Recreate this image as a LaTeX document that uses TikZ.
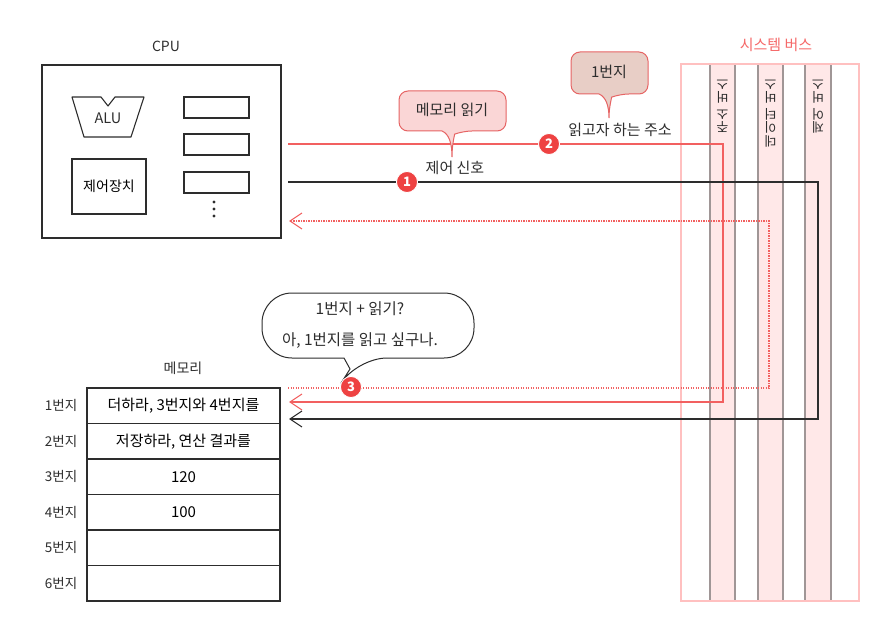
\documentclass[tikz,border=0pt]{standalone}
\usepackage{fontspec}
\setmainfont{Noto Sans CJK KR}
\usetikzlibrary{arrows.meta}
\definecolor{lred}{RGB}{242,96,96}
\definecolor{dred}{RGB}{230,100,100}
\definecolor{cred}{RGB}{238,66,66}
\definecolor{pinkf}{RGB}{250,214,214}
\definecolor{brownf}{RGB}{232,206,198}
\definecolor{lanef}{RGB}{255,232,232}
\definecolor{laneb}{RGB}{160,150,150}
\definecolor{outb}{RGB}{255,192,192}
\definecolor{ink}{RGB}{45,45,45}
\definecolor{titler}{RGB}{245,105,105}
\tikzset{
  box/.style={draw=ink, line width=1.1pt},
  cell/.style={draw=ink, line width=1.1pt, minimum width=193pt, minimum height=35.5pt, inner sep=0pt, font=\fontsize{15}{18}\selectfont},
  lbl/.style={font=\fontsize{15}{18}\selectfont, text=ink, inner sep=0pt},
  rowlbl/.style={font=\fontsize{13.5}{16}\selectfont, text=ink, inner sep=0pt, anchor=east},
  numc/.style={circle, fill=cred, draw=white, line width=0.8pt, minimum size=21pt, inner sep=0pt, text=white, font=\fontsize{13}{14}\selectfont\bfseries},
  redline/.style={draw=lred, line width=1.1pt},
  blkline/.style={draw=ink, line width=1.1pt},
  dotline/.style={draw=lred, line width=1.1pt, dash pattern=on 1.2pt off 1.3pt},
  barb/.style={-{Straight Barb[length=12pt,width=16pt,line width=1.1pt]}},
  vtext/.style={rotate=180, anchor=south, align=center, inner sep=0pt, text=ink, font=\fontsize{13}{13.5}\selectfont},
}
\begin{document}
\begin{tikzpicture}[x=1pt,y=-1pt]
\useasboundingbox (0,0) rectangle (888,636);

% ---------- system bus ----------
\node[text=titler, font=\fontsize{15}{18}\selectfont, inner sep=0pt] (bustitle) at (776,45) {시스템 버스};
\fill[lanef] (710,64) rectangle (735,601);
\fill[lanef] (758,64) rectangle (783,601);
\fill[lanef] (805,64) rectangle (831,601);
\foreach \xx in {710,735,758,783,805,831}{
  \draw[laneb, line width=1.1pt] (\xx,64) -- (\xx,601);
}
\draw[outb, line width=1.2pt] (681,64) rectangle (859,601);
\node[vtext] (addrbus) at (722.5,79) {주\\소\\[3pt]버\\스};
\node[vtext] (databus) at (770.5,79) {데\\이\\터\\[3pt]버\\스};
\node[vtext] (ctrlbus) at (818,79) {제\\어\\[3pt]버\\스};

% ---------- CPU ----------
\node[lbl, font=\fontsize{14}{16}\selectfont] (cpulbl) at (166,46) {CPU};
\node[box, minimum width=239pt, minimum height=173pt, inner sep=0pt] (cpu) at (161.5,151.5) {};
\draw[box, line join=round] (72,97) -- (101,97) -- (108,106) -- (115,97) -- (144,97) -- (131,137) -- (84,137) -- cycle;
\node[lbl, font=\fontsize{14.5}{16}\selectfont] (alu) at (108,118) {ALU};
\node[box, minimum width=74pt, minimum height=55pt, inner sep=0pt, font=\fontsize{14}{16}\selectfont] (cu) at (109,186.5) {제어장치};
\node[box, minimum width=65pt, minimum height=21pt, inner sep=0pt] (reg1) at (216.5,107.5) {};
\node[box, minimum width=65pt, minimum height=21pt, inner sep=0pt] (reg2) at (216.5,144.5) {};
\node[box, minimum width=65pt, minimum height=21pt, inner sep=0pt] (reg3) at (216.5,182.5) {};
\foreach \yy in {202,209,216}{ \fill[ink] (214,\yy) circle (1.7pt); }

% ---------- memory ----------
\node[lbl, font=\fontsize{14}{16}\selectfont] (memlbl) at (183,368) {메모리};
\node[cell] (m1) at (183.5,405.75) {더하라, 3번지와 4번지를};
\node[cell] (m2) at (183.5,441.25) {저장하라, 연산 결과를};
\node[cell] (m3) at (183.5,476.75) {120};
\node[cell] (m4) at (183.5,512.25) {100};
\node[cell] (m5) at (183.5,547.75) {};
\node[cell] (m6) at (183.5,583.25) {};
\node[rowlbl] at ([xshift=-9pt]m1.west) {1번지};
\node[rowlbl] at ([xshift=-9pt]m2.west) {2번지};
\node[rowlbl] at ([xshift=-9pt]m3.west) {3번지};
\node[rowlbl] at ([xshift=-9pt]m4.west) {4번지};
\node[rowlbl] at ([xshift=-9pt]m5.west) {5번지};
\node[rowlbl] at ([xshift=-9pt]m6.west) {6번지};

% ---------- connectors ----------
\coordinate (cA) at (288,144);
\coordinate (aTurn) at (723,402);
\coordinate (mA) at (289,402);
\coordinate (cC) at (288,182);
\coordinate (cTurn) at (818,419);
\coordinate (mC) at (289,419);
\coordinate (mD) at (288,388);
\coordinate (dTurn) at (769,221);
\coordinate (cD) at (289,221);
\draw[redline, barb] (cA) -| (aTurn) -- (mA);
\draw[blkline, barb] (cC) -| (cTurn) -- (mC);
\draw[dotline, barb] (mD) -| (dTurn) -- (cD);

% ---------- callouts ----------
\draw[dred, fill=pinkf, line width=1pt, rounded corners=9pt] (442,131) -- (399,131) -- (399,91) -- (506,91) -- (506,131) -- (463,131)
  [sharp corners] .. controls (455,134) and (452,143) .. (452,157) .. controls (452,143) and (449,134) .. (442,131) -- cycle;
\node[lbl] (readmem) at (452,110) {메모리 읽기};
\node[lbl] (ctrlsig) at (455,168) {제어 신호};

\draw[dred, fill=brownf, line width=1pt, rounded corners=9pt] (599,94) -- (571,94) -- (571,52) -- (648,52) -- (648,94) -- (620,94)
  [sharp corners] .. controls (612,97) and (609,106) .. (609,118) .. controls (609,106) and (606,97) .. (599,94) -- cycle;
\node[lbl] (addr1) at (609,72) {1번지};
\node[lbl] (addrtxt) at (620,130) {읽고자 하는 주소};

\draw[ink, fill=white, line width=1pt, rounded corners=30pt] (344,358) -- (262,358) -- (262,293) -- (474,293) -- (474,358) -- (357,358)
  [sharp corners] -- (350,369) -- (344,358) -- cycle;
\node[lbl, align=center, font=\fontsize{15.5}{31}\selectfont] (bubble) at (360,325) {1번지 + 읽기?\\아, 1번지를 읽고 싶구나.};

% ---------- step numbers ----------
\node[numc] (n1) at (407,182) {1};
\node[numc] (n2) at (549,144) {2};
\node[numc] (n3) at (351,387) {3};
\end{tikzpicture}
\end{document}
